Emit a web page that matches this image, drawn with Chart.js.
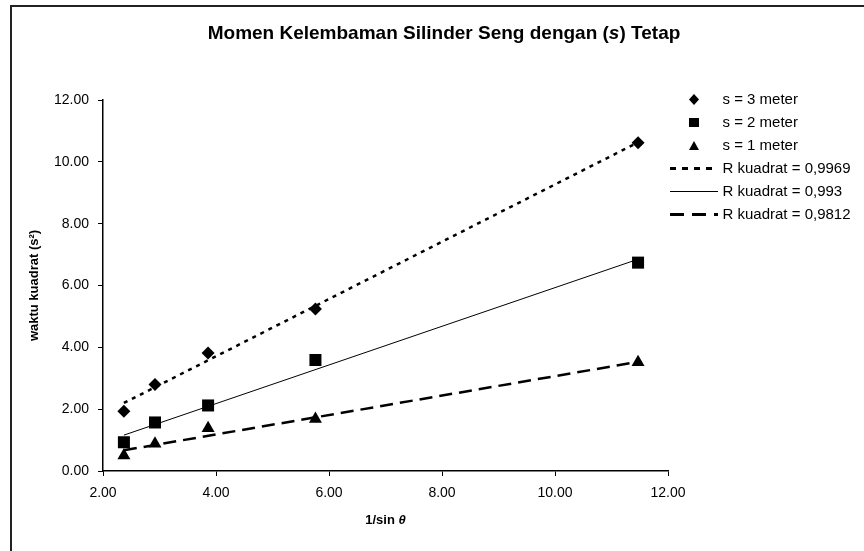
<!DOCTYPE html>
<html>
<head>
<meta charset="utf-8">
<style>
  html, body { margin: 0; padding: 0; background: #fff; }
  #wrap { width: 864px; height: 551px; }
</style>
<script src="https://cdn.jsdelivr.net/npm/chart.js@4.4.1/dist/chart.umd.min.js"></script>
</head>
<body>
<div id="wrap"><canvas id="myChart" width="864" height="551"></canvas></div>
<script>
// data
const xValues = [2.37, 2.92, 3.86, 5.76, 11.47];
const s3Values = [1.93, 2.80, 3.82, 5.24, 10.62];
const s2Values = [0.93, 1.57, 2.12, 3.59, 6.74];
const s1Values = [0.50, 0.88, 1.38, 1.68, 3.52];

// trend lines (end points)
const trendX = [2.37, 11.47];
const trend3 = [2.20, 10.63];
const trend2 = [1.16, 6.85];
const trend1 = [0.67, 3.53];

const seriesLabels = ['s = 3 meter', 's = 2 meter', 's = 1 meter'];
const trendLabels = ['R kuadrat = 0,9969', 'R kuadrat = 0,993', 'R kuadrat = 0,9812'];
const xTickLabels = ['2.00', '4.00', '6.00', '8.00', '10.00', '12.00'];
const yTickLabels = ['0.00', '2.00', '4.00', '6.00', '8.00', '10.00', '12.00'];

// title pieces, the second one is italic
const titleParts = ['Momen Kelembaman Silinder Seng dengan (', 's', ') Tetap'];
const xTitleParts = ['1/sin ', 'θ'];

const FONT = "'Liberation Sans', Arial, sans-serif";

function pts(xs, ys) {
  return xs.map((x, i) => ({ x: x, y: ys[i] }));
}

// small icons for the legend
function icon(w, h, drawFn) {
  const c = document.createElement('canvas');
  c.width = w; c.height = h;
  const g = c.getContext('2d');
  g.fillStyle = '#000';
  g.strokeStyle = '#000';
  drawFn(g, w, h);
  return c;
}
const diamondIcon = icon(10, 11, (g, w, h) => {
  g.beginPath(); g.moveTo(w / 2, 0); g.lineTo(w, h / 2); g.lineTo(w / 2, h); g.lineTo(0, h / 2); g.closePath(); g.fill();
});
const squareIcon = icon(10, 9, (g, w, h) => { g.fillRect(0, 0, w, h); });
const triangleIcon = icon(10, 9, (g, w, h) => {
  g.beginPath(); g.moveTo(w / 2, 0); g.lineTo(w, h); g.lineTo(0, h); g.closePath(); g.fill();
});
function lineIcon(dash, width) {
  return icon(48, 5, (g, w, h) => {
    g.lineWidth = width;
    g.setLineDash(dash);
    g.beginPath(); g.moveTo(0, 2.5); g.lineTo(w, 2.5); g.stroke();
  });
}
const legendIcons = [diamondIcon, squareIcon, triangleIcon,
  lineIcon([6, 6], 3), lineIcon([], 1), lineIcon([14, 8], 3)];

// draws text pieces centred on cx, odd pieces in italic
function drawRich(ctx, parts, cx, cy, size) {
  const fonts = parts.map((p, i) => (i % 2 ? 'italic ' : '') + 'bold ' + size + 'px ' + FONT);
  let total = 0;
  const widths = parts.map((p, i) => { ctx.font = fonts[i]; const w = ctx.measureText(p).width; total += w; return w; });
  let x = cx - total / 2;
  ctx.textBaseline = 'middle';
  ctx.textAlign = 'left';
  ctx.fillStyle = '#000';
  parts.forEach((p, i) => { ctx.font = fonts[i]; ctx.fillText(p, x, cy); x += widths[i]; });
}

const framePlugin = {
  id: 'frame',
  beforeDraw(chart) {
    const ctx = chart.ctx;
    ctx.save();
    ctx.strokeStyle = '#222';
    ctx.lineWidth = 2;
    ctx.beginPath();
    ctx.moveTo(11, 551);
    ctx.lineTo(11, 6);
    ctx.lineTo(864, 6);
    ctx.stroke();
    ctx.restore();
  },
  afterLayout(chart) {
    // legend sits right of the plot
    const lg = chart.legend;
    lg.left = 665; lg.right = 864;
    lg.top = 84; lg.bottom = 300;
  },
  afterDraw(chart) {
    const ctx = chart.ctx;
    const area = chart.chartArea;
    ctx.save();
    drawRich(ctx, titleParts, 444, 33.5, 19);
    drawRich(ctx, xTitleParts, (area.left + area.right) / 2, 520, 13);
    ctx.restore();
  }
};

const ctx = document.getElementById('myChart').getContext('2d');
new Chart(ctx, {
  type: 'scatter',
  data: {
    datasets: [
      { label: seriesLabels[0], data: pts(xValues, s3Values), pointStyle: 'rectRot', pointRadius: 6.5,
        backgroundColor: '#000', borderColor: '#000', borderWidth: 0 },
      { label: seriesLabels[1], data: pts(xValues, s2Values), pointStyle: 'rect', pointRadius: 8.5,
        backgroundColor: '#000', borderColor: '#000', borderWidth: 0 },
      { label: seriesLabels[2], data: pts(xValues, s1Values), pointStyle: 'triangle', pointRadius: 7.5,
        backgroundColor: '#000', borderColor: '#000', borderWidth: 0 },
      { label: trendLabels[0], data: pts(trendX, trend3), showLine: true, pointRadius: 0,
        borderColor: '#000', borderWidth: 2.5, borderDash: [4, 5] },
      { label: trendLabels[1], data: pts(trendX, trend2), showLine: true, pointRadius: 0,
        borderColor: '#000', borderWidth: 1 },
      { label: trendLabels[2], data: pts(trendX, trend1), showLine: true, pointRadius: 0,
        borderColor: '#000', borderWidth: 2.5, borderDash: [13, 7] }
    ]
  },
  options: {
    responsive: false,
    animation: false,
    layout: { padding: { left: 9, right: 196, top: 100, bottom: 0 } },
    plugins: {
      title: { display: false },
      legend: {
        position: 'chartArea',
        align: 'start',
        labels: {
          usePointStyle: true,
          pointStyleWidth: 42,
          boxHeight: 15,
          padding: 8,
          color: '#000',
          font: { family: FONT, size: 15 },
          generateLabels: (chart) => chart.data.datasets.map((ds, i) => ({
            text: ds.label,
            pointStyle: legendIcons[i],
            fillStyle: '#000',
            strokeStyle: '#000',
            lineWidth: 0,
            datasetIndex: i
          }))
        }
      },
      tooltip: { enabled: false }
    },
    scales: {
      x: {
        type: 'linear',
        min: 2, max: 12,
        ticks: { stepSize: 2, padding: 9, color: '#000', font: { family: FONT, size: 14 },
          callback: (v, i) => xTickLabels[i] },
        grid: { drawOnChartArea: false, drawTicks: true, tickLength: 5, color: '#000' },
        border: { display: true, color: '#000', width: 1.5 },
        afterFit: (s) => { s.height = 80; }
      },
      y: {
        type: 'linear',
        min: 0, max: 12,
        ticks: { stepSize: 2, padding: 9, color: '#000', font: { family: FONT, size: 14 },
          callback: (v, i) => yTickLabels[i] },
        grid: { drawOnChartArea: false, drawTicks: true, tickLength: 5, color: '#000' },
        border: { display: true, color: '#000', width: 1.5 },
        title: { display: true, text: 'waktu kuadrat (s²)', color: '#000',
          font: { family: FONT, size: 13, weight: 'bold' }, padding: { top: 18, bottom: 0 } },
        afterFit: (s) => { s.width = 94; }
      }
    }
  },
  plugins: [framePlugin]
});
</script>
</body>
</html>
